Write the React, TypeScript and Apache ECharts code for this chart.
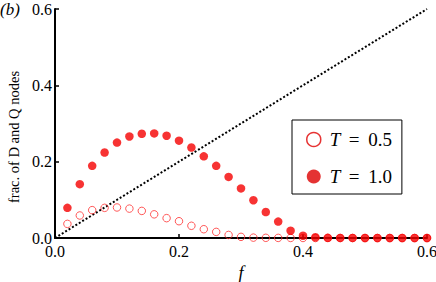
import React, { useEffect, useRef } from "react";
import * as echarts from "echarts";

const fValues = [0.02, 0.04, 0.06, 0.08, 0.1, 0.12, 0.14, 0.16, 0.18, 0.2, 0.22, 0.24, 0.26, 0.28, 0.3, 0.32, 0.34, 0.36, 0.38, 0.4, 0.42, 0.44, 0.46, 0.48, 0.5, 0.52, 0.54, 0.56, 0.58, 0.6];
const t05 = [0.037, 0.059, 0.073, 0.079, 0.08, 0.077, 0.071, 0.062, 0.052, 0.044, 0.032, 0.023, 0.016, 0.008, 0.003, 0.001, 0.0005, 0.0003, 0.0002, 0.0001, 0, 0, 0, 0, 0, 0, 0, 0, 0, 0];
const t10 = [0.079, 0.141, 0.189, 0.224, 0.25, 0.266, 0.273, 0.274, 0.268, 0.255, 0.237, 0.214, 0.189, 0.16, 0.13, 0.099, 0.068, 0.043, 0.019, 0.006, 0.002, 0.0005, 0.0003, 0.0002, 0.0001, 0, 0, 0, 0, 0];
const diagX = [0, 0.6];
const tickLabels = ["0.0", "0.2", "0.4", "0.6"];
const seriesNames = ["T = 0.5", "T = 1.0"];

const SERIF = "Liberation Serif";

export default function App() {
  const ref = useRef<HTMLDivElement>(null);
  useEffect(() => {
    const chart = echarts.init(ref.current!, null, { renderer: "svg" });
    const axisCommon = {
      min: 0,
      max: 0.6,
      interval: 0.2,
      axisLine: { show: true, onZero: false, lineStyle: { color: "#000", width: 2 } },
      axisTick: { show: true, inside: true, length: 4, lineStyle: { color: "#000", width: 1.5 } },
      splitLine: { show: false },
    };
    chart.setOption({
      animation: false,
      backgroundColor: "#fff",
      textStyle: { fontFamily: SERIF },
      grid: { left: 55, right: 9, top: 9, bottom: 44, containLabel: false, outerBoundsMode: "none" },
      xAxis: {
        type: "value",
        ...axisCommon,
        axisLabel: {
          fontFamily: SERIF,
          fontSize: 16,
          color: "#000",
          margin: 5,
          formatter: (v: number) => tickLabels[Math.round(v / 0.2)] ?? "",
        },
        name: "f",
        nameLocation: "middle",
        nameGap: 24,
        nameTextStyle: { fontFamily: SERIF, fontStyle: "italic", fontSize: 18, color: "#000" },
      },
      yAxis: {
        type: "value",
        ...axisCommon,
        axisLabel: {
          fontFamily: SERIF,
          fontSize: 16,
          color: "#000",
          margin: 3,
          formatter: (v: number) => tickLabels[Math.round(v / 0.2)] ?? "",
        },
      },
      legend: {
        show: true,
        orient: "vertical",
        left: 292,
        top: 120,
        width: 121,
        height: 72,
        padding: [10, 10, 8, 14],
        itemGap: 18,
        itemWidth: 14,
        itemHeight: 14,
        borderColor: "#000",
        borderWidth: 1,
        backgroundColor: "#fff",
        data: [
          { name: seriesNames[0], icon: "circle", itemStyle: { color: "#fff", borderColor: "#e00000", borderWidth: 1.5 } },
          { name: seriesNames[1], icon: "circle", itemStyle: { color: "#dd0000" } },
        ],
        formatter: (n: string) => "{i|T}\u2009 = \u2009" + n.split("= ")[1],
        textStyle: {
          fontFamily: SERIF,
          fontSize: 19,
          color: "#000",
          padding: [0, 0, 0, 4],
          rich: { i: { fontFamily: SERIF, fontStyle: "italic", fontSize: 19, color: "#000" } },
        },
      },
      graphic: [
        {
          type: "text",
          left: 0,
          top: 1,
          style: { text: "(b)", fontFamily: SERIF, fontStyle: "italic", fontSize: 17, fill: "#000" },
        },
        {
          type: "text",
          x: 14,
          y: 137,
          rotation: Math.PI / 2,
          style: {
            text: "frac. of D and Q nodes",
            fontFamily: SERIF,
            fontSize: 14.5,
            fill: "#000",
            align: "center",
            verticalAlign: "middle",
          },
        },
      ],
      series: [
        {
          name: "diag",
          type: "line",
          data: diagX.map((x) => [x, x]),
          symbol: "none",
          lineStyle: { color: "#000", width: 2, type: [2, 2] },
          silent: true,
          z: 1,
        },
        {
          name: seriesNames[0],
          type: "scatter",
          data: fValues.map((f, i) => [f, t05[i]]),
          symbol: "circle",
          symbolSize: 7.5,
          itemStyle: { color: "rgba(255,255,255,0)", borderColor: "#ff3030", borderWidth: 1 },
          z: 2,
        },
        {
          name: seriesNames[1],
          type: "scatter",
          data: fValues.map((f, i) => [f, t10[i]]),
          symbol: "circle",
          symbolSize: 8.5,
          itemStyle: { color: "#f50000" },
          z: 3,
        },
      ],
    });
    return () => chart.dispose();
  }, []);
  return <div ref={ref} style={{ width: 436, height: 282, position: "absolute", left: 0, top: 0 }} />;
}
